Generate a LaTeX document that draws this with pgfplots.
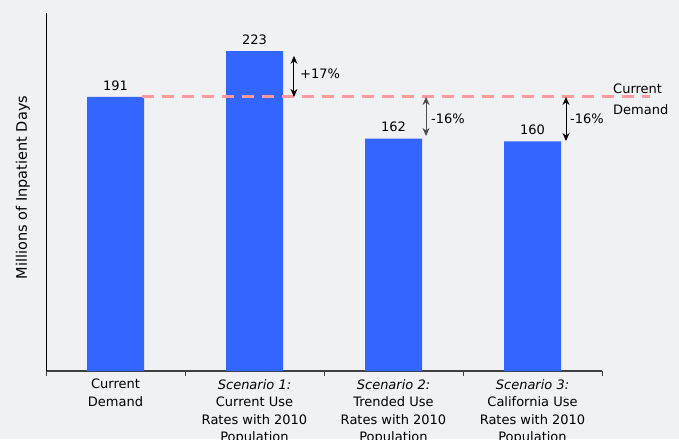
\documentclass[border=0pt]{standalone}
\usepackage{fontspec}
\setmainfont{DejaVu Sans}
\usepackage{pgfplots}
\pgfplotsset{compat=1.18}
\usetikzlibrary{arrows.meta}

\definecolor{bgc}{RGB}{240,241,243}
\definecolor{barblue}{RGB}{51,102,255}
\definecolor{refpink}{RGB}{255,153,153}
\definecolor{axisgray}{RGB}{64,64,64}

\begin{document}
\fontsize{13}{17.5}\selectfont
\begin{tikzpicture}[x=1pt,y=1pt]
% page background and frame of the picture
\fill[bgc] (-46,-68) rectangle (633,371);
\path[use as bounding box] (-46,-68) rectangle (633,371);
\clip (-46,-68) rectangle (633,371);
\begin{axis}[
  at={(0,0)}, anchor=south west,
  scale only axis, width=556pt, height=358pt,
  xmin=-0.5, xmax=3.5, ymin=0, ymax=249.5,
  clip=false,
  /pgf/number format/assume math mode=true,
  axis x line*=bottom, axis y line*=left,
  x axis line style={axisgray, line width=1.3pt, -},
  y axis line style={black, line width=0.9pt, -},
  ytick=\empty,
  xtick={0,1,2,3},
  major tick length=0pt,
  minor xtick={-0.5,0.5,1.5,2.5,3.5},
  minor tick length=5pt,
  tick align=outside,
  minor tick style={axisgray, line width=1pt},
  xticklabels={
    {Current\\Demand},
    {\textit{Scenario 1:}\\Current Use\\Rates with 2010\\Population},
    {\textit{Scenario 2:}\\Trended Use\\Rates with 2010\\Population},
    {\textit{Scenario 3:}\\California Use\\Rates with 2010\\Population}},
  xticklabel style={align=center, font=\fontsize{13}{17.5}\selectfont, inner sep=2pt, yshift=-6pt},
  ylabel={Millions of Inpatient Days},
  ylabel style={at={(axis description cs:-0.0414,0.5126)}, anchor=center,
    font=\fontsize{14.5}{17}\selectfont},
]
% inpatient days per scenario
\addplot[ybar, bar width=57pt, fill=barblue, draw=none,
  nodes near coords,
  every node near coord/.append style={font=\fontsize{13}{15}\selectfont, black, yshift=2pt}]
  coordinates {(0,191) (1,223) (2,162) (3,160)};

% current demand reference line
\addplot[refpink, line width=3pt, dash pattern=on 12pt off 8pt]
  coordinates {(0.19,191) (3.845,191)};

% change relative to current demand
\addplot[black, line width=1pt, {Stealth[length=8pt,width=7pt]}-{Stealth[length=8pt,width=7pt]}]
  coordinates {(1.284,219.6) (1.284,191)};
\addplot[black!70, line width=1pt, {Stealth[length=8pt,width=7pt]}-{Stealth[length=8pt,width=7pt]}]
  coordinates {(2.234,191) (2.234,163.8)};
\addplot[black, line width=1pt, {Stealth[length=8pt,width=7pt]}-{Stealth[length=8pt,width=7pt]}]
  coordinates {(3.241,191) (3.241,160.3)};

\node[anchor=west, inner sep=0pt] at (axis cs:1.327,207) {+17\%};
\node[anchor=west, inner sep=0pt] at (axis cs:2.27,175.7) {-16\%};
\node[anchor=west, inner sep=0pt] at (axis cs:3.27,175.7) {-16\%};

\node[anchor=west, inner sep=0pt] at (axis cs:3.579,196.6) {Current};
\node[anchor=west, inner sep=0pt] at (axis cs:3.579,181.9) {Demand};
\end{axis}
\end{tikzpicture}
\end{document}
